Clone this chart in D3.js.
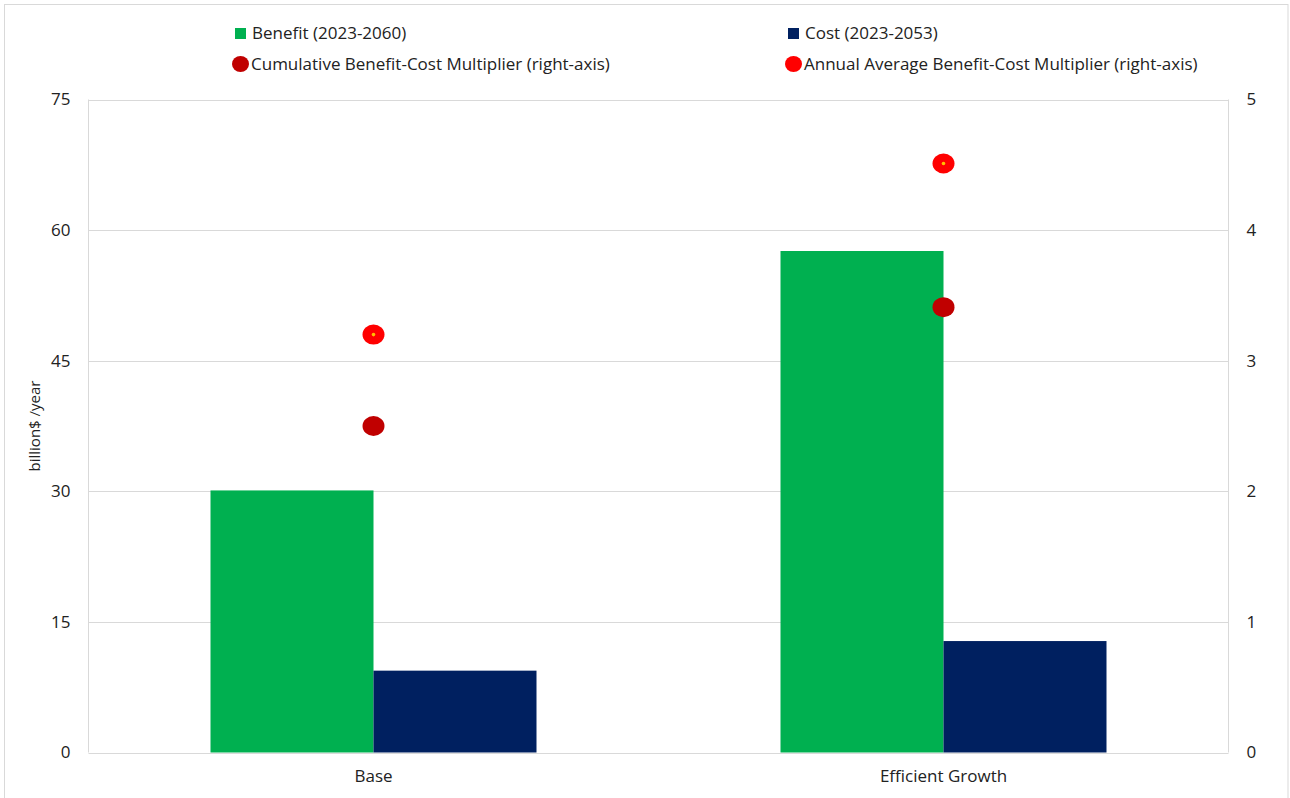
<!DOCTYPE html>
<html>
<head>
<meta charset="utf-8">
<script src="https://cdn.jsdelivr.net/npm/d3@7"></script>
<style>
  html, body { margin: 0; padding: 0; background: #fff; }
  svg { display: block; }
  text { font-family: "Open Sans", "Noto Sans", sans-serif; fill: #222; }
</style>
</head>
<body>
<svg id="chart" width="1290" height="798"></svg>
<script>
// Scenarios on the x axis
const scenarios = ["Base", "Efficient Growth"];
// Bar series, billion$ per year (left axis)
const benefit = [30.1, 57.6];
const cost = [9.4, 12.8];
// Multiplier series (right axis)
const cumulativeMultiplier = [2.5, 3.41];
const annualMultiplier = [3.2, 4.51];
// Tick values
const leftTicks = [0, 15, 30, 45, 60, 75];
const rightTicks = [0, 1, 2, 3, 4, 5];

const barSeries = [
  { name: "Benefit (2023-2060)", values: benefit, color: "#00b050" },
  { name: "Cost (2023-2053)", values: cost, color: "#002060" }
];
const dotSeries = [
  { name: "Cumulative Benefit-Cost Multiplier (right-axis)", values: cumulativeMultiplier, color: "#c00000", centre: false },
  { name: "Annual Average Benefit-Cost Multiplier (right-axis)", values: annualMultiplier, color: "#ff0000", centre: true }
];

const svg = d3.select("#chart");
const plot = { left: 88.5, right: 1228.5, top: 99.5, bottom: 752.5 };
const fontMain = "\"Open Sans\", sans-serif";

// outer chart border
svg.append("rect")
  .attr("x", 4.5).attr("y", 4.5)
  .attr("width", 1283.5).attr("height", 810)
  .attr("fill", "#fff").attr("stroke", "#d9d9d9").attr("stroke-width", 1);

const x0 = d3.scaleBand().domain(scenarios).range([plot.left, plot.right]).paddingInner(0).paddingOuter(0);
const groupWidth = 326;
const x1 = d3.scaleBand().domain(barSeries.map(s => s.name)).range([0, groupWidth]).padding(0);
const yL = d3.scaleLinear().domain([0, 75]).range([plot.bottom, plot.top]);
const yR = d3.scaleLinear().domain([0, 5]).range([plot.bottom, plot.top]);

// gridlines and plot frame
svg.append("g").selectAll("line").data(leftTicks).join("line")
  .attr("x1", plot.left).attr("x2", plot.right)
  .attr("y1", d => Math.round(yL(d)) + 0.5).attr("y2", d => Math.round(yL(d)) + 0.5)
  .attr("stroke", "#d9d9d9").attr("stroke-width", 1);
svg.append("line")
  .attr("x1", plot.left).attr("x2", plot.left).attr("y1", plot.top).attr("y2", plot.bottom)
  .attr("stroke", "#d9d9d9");
svg.append("line")
  .attr("x1", plot.right).attr("x2", plot.right).attr("y1", plot.top).attr("y2", plot.bottom)
  .attr("stroke", "#d9d9d9");

// bars
const groups = svg.append("g").selectAll("g").data(scenarios).join("g")
  .attr("transform", d => `translate(${x0(d) + x0.bandwidth() / 2 - groupWidth / 2},0)`);
groups.selectAll("rect")
  .data((d, i) => barSeries.map(s => ({ series: s, value: s.values[i] })))
  .join("rect")
  .attr("x", d => x1(d.series.name))
  .attr("width", x1.bandwidth())
  .attr("y", d => yL(d.value))
  .attr("height", d => yL(0) - yL(d.value))
  .attr("fill", d => d.series.color);

// multiplier dots
dotSeries.forEach(s => {
  const g = svg.append("g");
  g.selectAll("ellipse").data(s.values).join("ellipse")
    .attr("cx", (d, i) => x0(scenarios[i]) + x0.bandwidth() / 2)
    .attr("cy", d => yR(d))
    .attr("rx", 11).attr("ry", 10)
    .attr("fill", s.color);
  if (s.centre) {
    g.selectAll("circle").data(s.values).join("circle")
      .attr("cx", (d, i) => x0(scenarios[i]) + x0.bandwidth() / 2)
      .attr("cy", d => yR(d))
      .attr("r", 1.8)
      .attr("fill", "#ffc000");
  }
});

// left axis
const leftAxis = d3.axisLeft(yL).tickValues(leftTicks).tickSize(0).tickPadding(18);
const gl = svg.append("g").attr("transform", `translate(${plot.left},0)`).call(leftAxis);
gl.select(".domain").remove();
gl.selectAll("text").attr("font-size", 17).attr("fill", "#222").attr("font-family", fontMain);

// right axis
const rightAxis = d3.axisRight(yR).tickValues(rightTicks).tickFormat(d3.format("d")).tickSize(0).tickPadding(18);
const gr = svg.append("g").attr("transform", `translate(${plot.right},0)`).call(rightAxis);
gr.select(".domain").remove();
gr.selectAll("text").attr("font-size", 17).attr("fill", "#222").attr("font-family", fontMain);

// category axis
const bottomAxis = d3.axisBottom(x0).tickSize(0).tickPadding(17);
const gb = svg.append("g").attr("transform", `translate(0,${plot.bottom})`).call(bottomAxis);
gb.select(".domain").remove();
gb.selectAll("text").attr("font-size", 17).attr("fill", "#222").attr("font-family", fontMain);

// y axis title
svg.append("text")
  .attr("transform", `translate(40,${(plot.top + plot.bottom) / 2}) rotate(-90)`)
  .attr("text-anchor", "middle")
  .attr("font-family", "\"Liberation Sans\", Arial, sans-serif")
  .attr("font-size", 15)
  .text("billion$ /year");

// legend
const legendItems = [
  { label: barSeries[0].name, color: barSeries[0].color, shape: "square", x: 235, y: 33 },
  { label: barSeries[1].name, color: barSeries[1].color, shape: "square", x: 788, y: 33 },
  { label: dotSeries[0].name, color: dotSeries[0].color, shape: "circle", x: 232, y: 64 },
  { label: dotSeries[1].name, color: dotSeries[1].color, shape: "circle", x: 785, y: 64 }
];
const lg = svg.append("g").selectAll("g").data(legendItems).join("g")
  .attr("transform", d => `translate(${d.x},${d.y})`);
lg.filter(d => d.shape === "square").append("rect")
  .attr("x", 0).attr("y", -5).attr("width", 11).attr("height", 11)
  .attr("fill", d => d.color);
lg.filter(d => d.shape === "circle").append("ellipse")
  .attr("cx", 8.5).attr("cy", 0).attr("rx", 8.5).attr("ry", 8)
  .attr("fill", d => d.color);
lg.append("text")
  .attr("x", d => d.shape === "square" ? 17 : 19)
  .attr("y", 0)
  .attr("dy", "0.35em")
  .attr("font-size", 17)
  .text(d => d.label);
</script>
</body>
</html>
